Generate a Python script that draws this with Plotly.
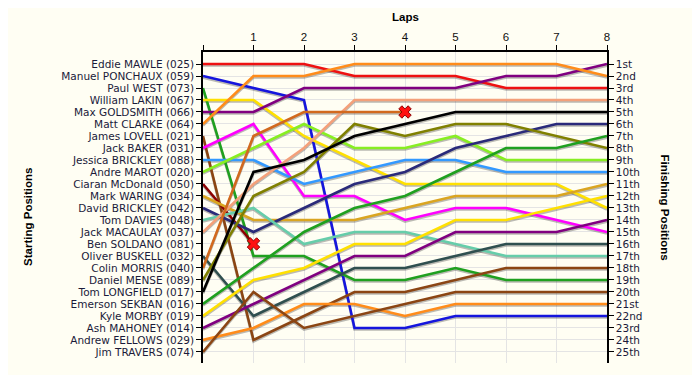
import plotly.graph_objects as go

drivers = [
    "Eddie MAWLE (025)", "Manuel PONCHAUX (059)", "Paul WEST (073)", "William LAKIN (067)",
    "Max GOLDSMITH (066)", "Matt CLARKE (064)", "James LOVELL (021)", "Jack BAKER (031)",
    "Jessica BRICKLEY (088)", "Andre MAROT (020)", "Ciaran McDonald (050)", "Mark WARING (034)",
    "David BRICKLEY (042)", "Tom DAVIES (048)", "Jack MACAULAY (037)", "Ben SOLDANO (081)",
    "Oliver BUSKELL (032)", "Colin MORRIS (040)", "Daniel MENSE (089)", "Tom LONGFIELD (017)",
    "Emerson SEKBAN (016)", "Kyle MORBY (019)", "Ash MAHONEY (014)", "Andrew FELLOWS (029)",
    "Jim TRAVERS (074)",
]
colors = [
    "#EE1111", "#1515DD", "#1FA01F", "#FFE000", "#800080", "#FF8C1A", "#8B4513", "#FF00FF",
    "#3399FF", "#88EE22", "#8B0000", "#DAA520", "#2A2A7A", "#66CDAA", "#F4A07A", "#888888",
    "#2F4F4F", "#D2691E", "#808000", "#000000", "#1FA01F", "#FFE000", "#800080", "#FF8C1A",
    "#8B4513",
]
laps = [0, 1, 2, 3, 4, 5, 6, 7, 8]
lap_labels = ["", "1", "2", "3", "4", "5", "6", "7", "8"]
finish_labels = ["1st", "2nd", "3rd", "4th", "5th", "6th", "7th", "8th", "9th", "10th",
                 "11th", "12th", "13th", "14th", "15th", "16th", "17th", "18th", "19th",
                 "20th", "21st", "22nd", "23rd", "24th", "25th"]

# positions per lap, in driver order (None = not running)
lap0 = [1, 2, 3, 4, 5, 6, 7, 8, 9, 10, 11, 12, 13, 14, 15, 16, 17, 18, 19, 20, 21, 22, 23, 24, 25]
lap1 = [1, 3, 17, 4, 5, 2, 24, 6, 9, 8, 16, 14, 15, 13, 11, None, 22, 7, 12, 10, 18, 19, 21, 23, 20]
lap2 = [1, 4, 17, 7, 3, 2, 22, 12, 11, 6, None, 14, 13, 16, 8, None, 20, 5, 10, 9, 15, 18, 19, 21, 23]
lap3 = [2, 23, 19, 9, 3, 1, 20, 12, 10, 8, None, 14, 11, 15, 4, None, 18, 5, 6, 7, 13, 16, 17, 21, 22]
lap4 = [2, 23, 19, 11, 3, 1, 20, 14, 9, 8, None, 13, 10, 15, 4, None, 18, 5, 7, 6, 12, 16, 17, 22, 21]
lap5 = [2, 22, 18, 11, 3, 1, 19, 13, 9, 7, None, 12, 8, 16, 4, None, 17, None, 6, 5, 10, 14, 15, 21, 20]
lap6 = [3, 22, 19, 11, 2, 1, 18, 13, 10, 9, None, 12, 7, 17, 4, None, 16, None, 6, 5, 8, 14, 15, 21, 20]
lap7 = [3, 22, 19, 11, 2, 1, 18, 14, 10, 9, None, 12, 6, 17, 4, None, 16, None, 7, 5, 8, 13, 15, 21, 20]
lap8 = [3, 22, 19, 13, 1, 2, 18, 15, 10, 9, None, 11, 6, 17, 4, None, 16, None, 8, 5, 7, 12, 14, 21, 20]
retired_driver = ["Ciaran McDonald (050)", "Colin MORRIS (040)"]
retired_lap = [1, 4]

by_lap = [lap0, lap1, lap2, lap3, lap4, lap5, lap6, lap7, lap8]

fig = go.Figure()

# shadows
for i, name in enumerate(drivers):
    ys = [col[i] for col in by_lap]
    xs = [l for l, v in zip(laps, ys) if v is not None]
    yv = [v + 0.13 for v in ys if v is not None]
    if len(xs) < 2:
        continue
    fig.add_trace(go.Scatter(x=xs, y=yv, mode="lines", hoverinfo="skip",
                             line=dict(color="rgba(60,60,60,0.35)", width=2.6),
                             showlegend=False))

for i, name in enumerate(drivers):
    ys = [col[i] for col in by_lap]
    xs = [l for l, v in zip(laps, ys) if v is not None]
    yv = [v for v in ys if v is not None]
    if len(xs) < 2:
        continue
    fig.add_trace(go.Scatter(x=xs, y=yv, mode="lines", name=name,
                             line=dict(color=colors[i], width=2.6), showlegend=False))

# retirement markers
rx, ry = [], []
for name, lap in zip(retired_driver, retired_lap):
    i = drivers.index(name)
    rx.append(lap)
    ry.append(by_lap[lap][i])
fig.add_trace(go.Scatter(x=rx, y=ry, mode="markers", showlegend=False,
                         marker=dict(symbol="x", size=11, color="#FF1010",
                                     line=dict(color="#8B0000", width=1))))

# invisible trace for right axis
fig.add_trace(go.Scatter(x=[0], y=[1], yaxis="y2", mode="markers",
                         marker=dict(opacity=0), showlegend=False, hoverinfo="skip"))

font_main = "DejaVu Sans, Verdana, sans-serif"
tick_color = "#1a1a3a"
yrange = [25.92, 0]

fig.update_layout(
    width=692, height=367,
    margin=dict(l=195, r=93, t=44, b=12, autoexpand=False),
    paper_bgcolor="#FFFEF3", plot_bgcolor="#FFFEF3",
    font=dict(family=font_main, size=10.5, color=tick_color),
    xaxis=dict(side="top", range=[0, 8], tickvals=laps, ticktext=lap_labels,
               showgrid=True, gridcolor="#E4E4E4", gridwidth=1, zeroline=False,
               showline=True, linecolor="black", linewidth=1.5, automargin=False,
               ticks="outside", ticklen=5, tickcolor="black",
               tickfont=dict(family="Liberation Sans, Arial, sans-serif", size=11.5,
                             color="#111111")),
    yaxis=dict(range=yrange, tickvals=lap0, ticktext=drivers, automargin=False,
               showgrid=True, gridcolor="#E4E4E4", gridwidth=1, zeroline=False,
               showline=True, linecolor="black", linewidth=1.5,
               ticks="outside", ticklen=5, tickcolor="black",
               tickfont=dict(size=10.5, color=tick_color)),
    yaxis2=dict(overlaying="y", side="right", range=yrange, tickvals=lap0,
                ticktext=finish_labels, showgrid=False, zeroline=False, automargin=False,
                showline=True, linecolor="black", linewidth=1.5,
                ticks="outside", ticklen=5, tickcolor="black",
                tickfont=dict(size=10.5, color=tick_color)),
    annotations=[
        dict(text="<b>Laps</b>", xref="paper", yref="paper", x=0.5, y=1.112,
             xanchor="center", yanchor="middle",
             showarrow=False, font=dict(family="Liberation Sans, Arial, sans-serif",
                                        size=11.5, color="black")),
        dict(text="<b>Starting Positions</b>", xref="paper", yref="paper",
             x=-0.433, y=0.47, textangle=-90, xanchor="center", yanchor="middle",
             showarrow=False, font=dict(family="Liberation Sans, Arial, sans-serif",
                                        size=11.5, color="black")),
        dict(text="<b>Finishing Positions</b>", xref="paper", yref="paper",
             x=1.146, y=0.5, textangle=90, xanchor="center", yanchor="middle",
             showarrow=False, font=dict(family="Liberation Sans, Arial, sans-serif",
                                        size=11.5, color="black")),
    ],
)

fig.write_html("out.html")
